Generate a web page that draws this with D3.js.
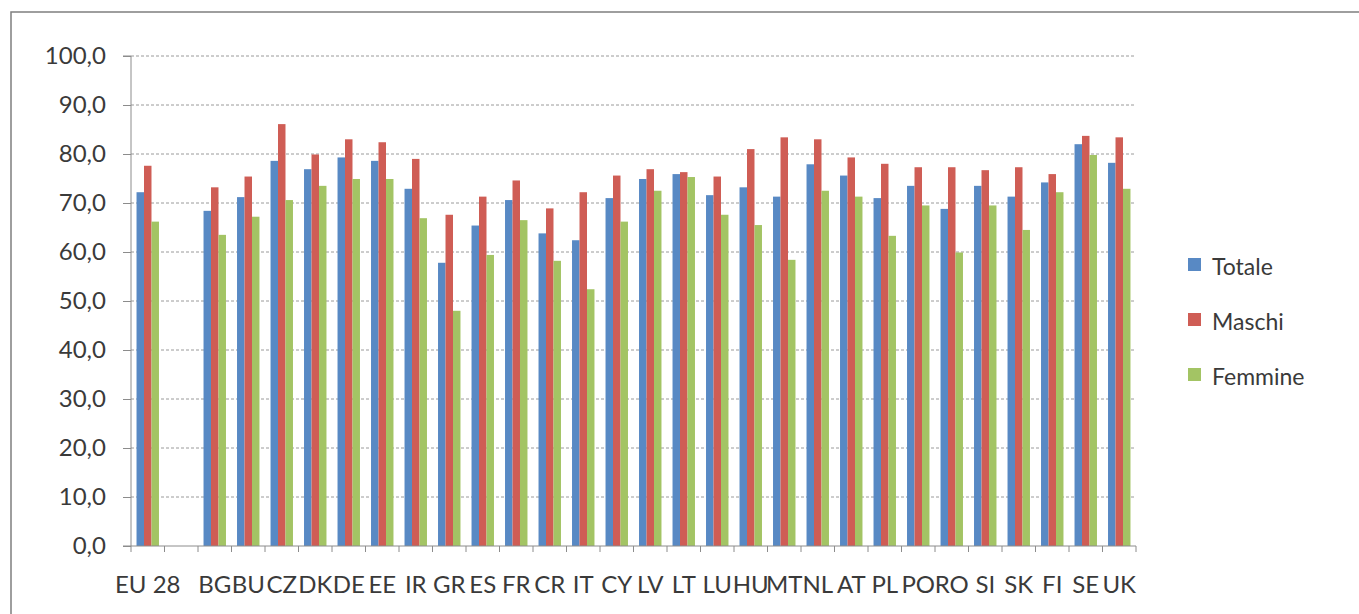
<!DOCTYPE html>
<html>
<head>
<meta charset="utf-8">
<script src="https://cdn.jsdelivr.net/npm/d3@7"></script>
<style>
  html, body { margin: 0; padding: 0; background: #fff; }
  svg { display: block; font-family: Lato, "Open Sans", sans-serif; }
</style>
</head>
<body>
<svg id="chart" width="1359" height="614"></svg>
<script>
const categories = ["EU 28", "", "BG", "BU", "CZ", "DK", "DE", "EE", "IR", "GR", "ES", "FR", "CR", "IT", "CY", "LV", "LT", "LU", "HU", "MT", "NL", "AT", "PL", "PO", "RO", "SI", "SK", "FI", "SE", "UK"];
const seriesNames = ["Totale", "Maschi", "Femmine"];
const totale  = [72.2, null, 68.4, 71.2, 78.6, 76.9, 79.3, 78.6, 72.9, 57.8, 65.4, 70.6, 63.8, 62.4, 71.0, 74.9, 75.9, 71.6, 73.2, 71.3, 77.9, 75.6, 71.0, 73.5, 68.8, 73.5, 71.3, 74.2, 82.0, 78.2];
const maschi  = [77.6, null, 73.2, 75.4, 86.1, 79.9, 83.0, 82.4, 79.0, 67.6, 71.3, 74.6, 68.9, 72.2, 75.6, 76.9, 76.3, 75.4, 81.0, 83.4, 83.0, 79.3, 78.0, 77.3, 77.3, 76.7, 77.3, 75.9, 83.7, 83.4];
const femmine = [66.2, null, 63.5, 67.2, 70.6, 73.5, 74.9, 74.9, 66.9, 48.0, 59.4, 66.5, 58.2, 52.4, 66.2, 72.5, 75.3, 67.6, 65.5, 58.4, 72.5, 71.3, 63.3, 69.5, 59.9, 69.5, 64.5, 72.2, 79.8, 72.9];
const yTicks = [0, 10, 20, 30, 40, 50, 60, 70, 80, 90, 100];
const colors = ["#5889C4", "#CF5D55", "#A3C464"];

(function () {
const values = [totale, maschi, femmine];
const keys = categories.map((c, i) => c === "" ? "__blank" + i : c);

const svg = d3.select("#chart");
const textColor = "#3a3a3a";

// frame
svg.append("rect").attr("x", 11).attr("y", 12).attr("width", 1400).attr("height", 700)
  .attr("fill", "none").attr("stroke", "#7f7f7f").attr("stroke-width", 1.5);

const pLeft = 131, pRight = 1136, pTop = 56, pBottom = 546;

const x = d3.scaleBand().domain(keys).range([pLeft, pRight]).paddingInner(0.33).paddingOuter(0.165);
const xs = d3.scaleBand().domain(seriesNames).range([0, x.bandwidth()]);
const y = d3.scaleLinear().domain([0, 100]).range([pBottom, pTop]);

// gridlines
svg.append("g").selectAll("line").data(yTicks.filter(t => t > 0)).join("line")
  .attr("x1", pLeft).attr("x2", pRight)
  .attr("y1", d => y(d)).attr("y2", d => y(d))
  .attr("stroke", "#9a9a9a").attr("stroke-width", 1).attr("stroke-dasharray", "3,2");

// bars
const g = svg.append("g");
categories.forEach((c, i) => {
  seriesNames.forEach((s, j) => {
    const v = values[j][i];
    if (v == null) return;
    g.append("rect")
      .attr("x", x(keys[i]) + xs(s))
      .attr("y", y(v))
      .attr("width", xs.bandwidth())
      .attr("height", y(0) - y(v))
      .attr("fill", colors[j]);
  });
});

// y axis
const yAxis = d3.axisLeft(y).tickValues(yTicks).tickSize(8).tickPadding(17)
  .tickFormat(d => d3.format(".1f")(d).replace(".", ","));
const ya = svg.append("g").attr("transform", `translate(${pLeft},0)`).call(yAxis);
ya.select(".domain").attr("stroke", "#8c8c8c").attr("d", `M-8,${pTop}H0V${pBottom}H-8`);
ya.selectAll(".tick line").attr("stroke", "#8c8c8c");
ya.selectAll("text").attr("fill", textColor).attr("font-size", 24).attr("font-family", "Lato, sans-serif");

// x axis labels
const xAxis = d3.axisBottom(x).tickSize(0).tickPadding(30).tickFormat((d, i) => categories[i]);
const xa = svg.append("g").attr("transform", `translate(0,${pBottom})`).call(xAxis);
xa.select(".domain").attr("stroke", "#8c8c8c").attr("d", `M${pLeft},0H${pRight}`);
xa.selectAll("text").attr("fill", textColor).attr("font-size", 24).attr("font-family", "Lato, sans-serif");

// boundary ticks
const step = x.step();
svg.append("g").selectAll("line").data(d3.range(categories.length + 1)).join("line")
  .attr("x1", i => x.range()[0] + i * step).attr("x2", i => x.range()[0] + i * step)
  .attr("y1", pBottom).attr("y2", pBottom + 6)
  .attr("stroke", "#8c8c8c");

// legend
const lg = svg.append("g").attr("transform", "translate(1188,258)");
seriesNames.forEach((s, j) => {
  const row = lg.append("g").attr("transform", `translate(0,${j * 55})`);
  row.append("rect").attr("width", 13).attr("height", 13).attr("fill", colors[j]);
  row.append("text").attr("x", 24).attr("y", 17).attr("font-size", 23)
    .attr("fill", textColor).text(s);
});
})();
</script>
</body>
</html>
